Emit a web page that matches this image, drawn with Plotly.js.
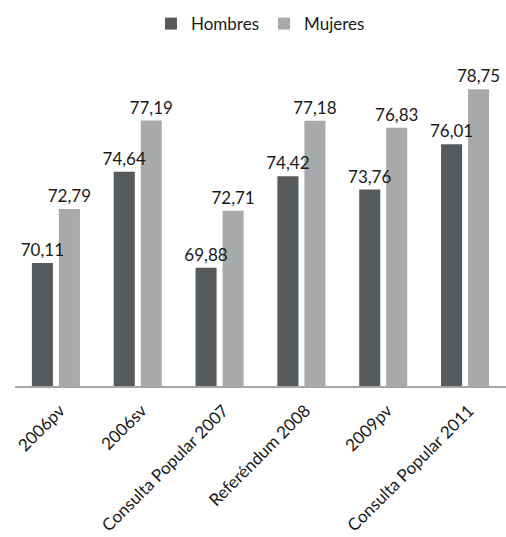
<!DOCTYPE html>
<html>
<head>
<meta charset="utf-8">
<script src="https://cdn.plot.ly/plotly-3.0.1.min.js"></script>
<style>html,body{margin:0;padding:0;background:#fff;}#chart{width:506px;height:537px;}</style>
</head>
<body>
<div id="chart"></div>
<script>
var categories = ["2006pv", "2006sv", "Consulta Popular 2007", "Referéndum 2008", "2009pv", "Consulta Popular 2011"];
var hombres = [70.11, 74.64, 69.88, 74.42, 73.76, 76.01];
var mujeres = [72.79, 77.19, 72.71, 77.18, 76.83, 78.75];
var seriesNames = ["Hombres", "Mujeres"];
var axisMin = 64, axisMax = 80;

function fmt(v) { return v.toFixed(2).replace(".", ","); }

var fontFam = "Lato, 'Open Sans', sans-serif";
function barTrace(name, vals, color, group) {
  return {
    type: "bar", name: name, x: categories, offsetgroup: group,
    y: vals.map(function(v){ return v - axisMin; }), base: axisMin,
    marker: {color: color}, hoverinfo: "none"
  };
}
function labelTrace(name, vals, group) {
  return {
    type: "bar", name: name, x: categories, offsetgroup: group, showlegend: false,
    y: vals.map(function(v){ return v - axisMin; }), base: axisMin,
    marker: {color: "rgba(0,0,0,0)"},
    text: vals.map(fmt), textposition: "outside", constraintext: "none",
    cliponaxis: false,
    textfont: {family: fontFam, size: 17, color: "#1a1a1a"}, hoverinfo: "none"
  };
}
var traces = [
  barTrace(seriesNames[0], hombres, "#575a5d", "h"),
  barTrace(seriesNames[1], mujeres, "#a8a9ab", "m"),
  labelTrace(seriesNames[0], hombres, "h"),
  labelTrace(seriesNames[1], mujeres, "m")
];

var layout = {
  width: 506, height: 537,
  margin: {l: 15, r: 0, t: 64, b: 151},
  paper_bgcolor: "#ffffff", plot_bgcolor: "#ffffff",
  barmode: "group", bargap: 0.34, bargroupgap: 0.22,
  font: {family: fontFam, size: 17, color: "#1a1a1a"},
  showlegend: true,
  legend: {orientation: "h", x: 0.5, xanchor: "center", y: 1.18, yanchor: "top",
           font: {family: fontFam, size: 17, color: "#1a1a1a"}, itemwidth: 30},
  xaxis: {
    type: "category", showline: true, linecolor: "#a6a6a6", linewidth: 2,
    ticks: "", tickangle: -45, showgrid: false, zeroline: false,
    ticklabelstandoff: 6, ticklabelshift: 4,
    tickfont: {family: fontFam, size: 17, color: "#1a1a1a"}
  },
  yaxis: {range: [axisMin, axisMax], visible: false, showgrid: false, zeroline: false}
};

Plotly.newPlot("chart", traces, layout, {displayModeBar: false, staticPlot: true});
</script>
</body>
</html>
